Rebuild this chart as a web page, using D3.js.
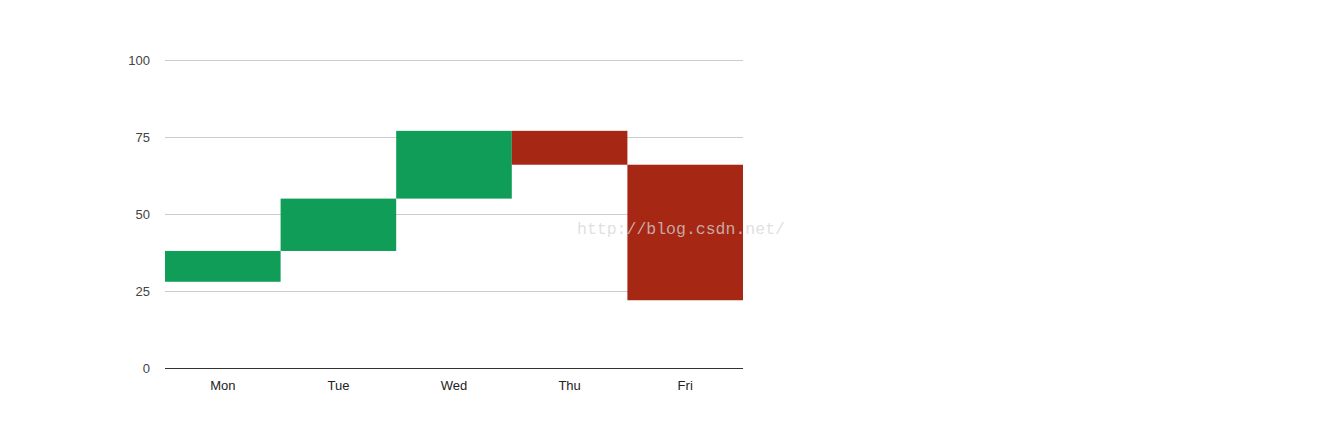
<!DOCTYPE html>
<html><head><meta charset="utf-8">
<script src="https://cdn.jsdelivr.net/npm/d3@7"></script>
<style>body{margin:0;background:#fff}svg{display:block}</style>
</head><body>
<svg id="c" width="1342" height="435"></svg>
<script>
const categories = ["Mon","Tue","Wed","Thu","Fri"];
const openVals  = [28, 38, 55, 77, 66];
const closeVals = [38, 55, 77, 66, 22];
const yTicks = [0, 25, 50, 75, 100];

const svg = d3.select("#c");
const x = d3.scaleBand().domain(categories).range([165, 743]).padding(0);
const y = d3.scaleLinear().domain([0, 100]).range([368, 60]);

// gridlines
svg.append("g").selectAll("line").data(yTicks.filter(d => d !== 0)).join("line")
  .attr("x1", 165).attr("x2", 743)
  .attr("y1", d => Math.round(y(d)) + 0.5).attr("y2", d => Math.round(y(d)) + 0.5)
  .attr("stroke", "#cccccc");

// bars
const data = categories.map((c, i) => ({c, o: openVals[i], cl: closeVals[i]}));
svg.append("g").selectAll("rect").data(data).join("rect")
  .attr("x", d => x(d.c))
  .attr("width", x.bandwidth())
  .attr("y", d => y(Math.max(d.o, d.cl)))
  .attr("height", d => Math.abs(y(d.o) - y(d.cl)))
  .attr("fill", d => d.cl >= d.o ? "#0f9d58" : "#a52714");

// baseline
svg.append("line").attr("x1", 165).attr("x2", 743)
  .attr("y1", Math.round(y(0)) + 0.5).attr("y2", Math.round(y(0)) + 0.5)
  .attr("stroke", "#333333");

// y labels
svg.append("g").selectAll("text").data(yTicks).join("text")
  .attr("x", 150).attr("y", d => y(d) + 4.5)
  .attr("text-anchor", "end")
  .attr("font-family", "Liberation Sans, Arial, sans-serif")
  .attr("font-size", 13).attr("fill", "#444444")
  .text(d => d);

// x labels
svg.append("g").selectAll("text").data(categories).join("text")
  .attr("x", d => x(d) + x.bandwidth() / 2).attr("y", 390)
  .attr("text-anchor", "middle")
  .attr("font-family", "Liberation Sans, Arial, sans-serif")
  .attr("font-size", 13).attr("fill", "#222222")
  .text(d => d);

// watermark
svg.append("text").attr("x", 577).attr("y", 234)
  .attr("font-family", "Liberation Mono, DejaVu Sans Mono, monospace")
  .attr("font-size", 16.5).attr("fill", "#d6d6d6").attr("fill-opacity", 0.75)
  .text("http://blog.csdn.net/");
</script>
</body></html>
